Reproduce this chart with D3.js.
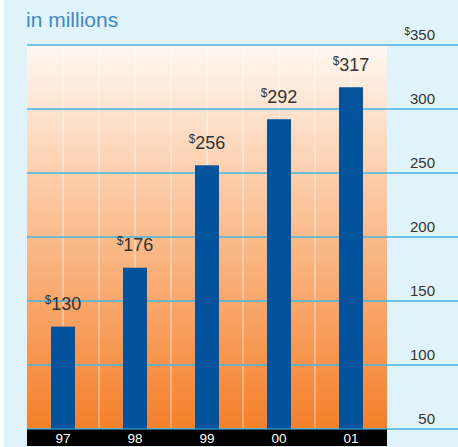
<!DOCTYPE html>
<html lang="en">
<head>
    <meta charset="UTF-8">
    <title>in millions</title>
    <script src="https://d3js.org/d3.v7.min.js"></script>
    <style>
        body { margin: 0; background: #ffffff; }
        svg { display: block; font-family: "Liberation Sans", Arial, sans-serif; }
    </style>
</head>
<body>
    <div id="chart"></div>
    <script>
        // Data
        const years = ["97", "98", "99", "00", "01"];
        const revenue = [130, 176, 256, 292, 317];
        const yTicks = [50, 100, 150, 200, 250, 300, 350];

        const W = 458, H = 447;
        const plot = { left: 27, right: 387, top: 45, bottom: 429 };

        const svg = d3.select("#chart").append("svg")
            .attr("width", W)
            .attr("height", H);

        // page background
        svg.append("rect")
            .attr("x", 4).attr("y", 0)
            .attr("width", W - 4).attr("height", H)
            .attr("fill", "#e1f3fa");

        const defs = svg.append("defs");
        const grad = defs.append("linearGradient")
            .attr("id", "bg")
            .attr("x1", 0).attr("y1", 0).attr("x2", 0).attr("y2", 1);
        grad.append("stop").attr("offset", "0%").attr("stop-color", "#fef8f2");
        grad.append("stop").attr("offset", "35%").attr("stop-color", "#fccdaa");
        grad.append("stop").attr("offset", "100%").attr("stop-color", "#f47f2a");

        // scales
        const x = d3.scaleBand()
            .domain(years)
            .range([plot.left, plot.right])
            .paddingInner(0).paddingOuter(0);
        const y = d3.scaleLinear()
            .domain([50, 350])
            .range([plot.bottom, plot.top]);
        const barW = 24;

        // orange plot area
        svg.append("rect")
            .attr("x", plot.left).attr("y", plot.top)
            .attr("width", plot.right - plot.left)
            .attr("height", plot.bottom - plot.top)
            .attr("fill", "url(#bg)");

        // vertical white lines, every half band
        const half = x.bandwidth() / 2;
        const vx = d3.range(1, years.length * 2).map(i => plot.left + i * half);
        svg.selectAll(".vline")
            .data(vx)
            .enter().append("line")
            .attr("class", "vline")
            .attr("x1", d => d).attr("x2", d => d)
            .attr("y1", plot.top).attr("y2", plot.bottom)
            .style("stroke", "#ffffff")
            .style("stroke-opacity", 0.65)
            .style("stroke-width", 1);

        // horizontal gridlines
        svg.selectAll(".hline")
            .data(yTicks)
            .enter().append("line")
            .attr("class", "hline")
            .attr("x1", plot.left).attr("x2", W)
            .attr("y1", d => y(d)).attr("y2", d => y(d))
            .style("stroke", "#45b6e2")
            .style("stroke-width", 1.5);

        // bars
        svg.selectAll(".bar")
            .data(revenue)
            .enter().append("rect")
            .attr("class", "bar")
            .attr("x", (d, i) => x(years[i]) + x.bandwidth() / 2 - barW / 2)
            .attr("y", d => y(d))
            .attr("width", barW)
            .attr("height", d => plot.bottom - y(d))
            .attr("fill", "#02539b");

        // value labels
        const vl = svg.selectAll(".val")
            .data(revenue)
            .enter().append("text")
            .attr("class", "val")
            .attr("x", (d, i) => x(years[i]) + x.bandwidth() / 2)
            .attr("y", d => y(d) - 16.5)
            .attr("text-anchor", "middle")
            .attr("fill", "#333333")
            .style("font-size", "18px");
        vl.append("tspan")
            .attr("dy", -6)
            .style("font-size", "12px")
            .text("$");
        vl.append("tspan")
            .attr("dy", 6)
            .text(d => d);

        // y tick labels
        const tl = svg.selectAll(".tick-label")
            .data(yTicks)
            .enter().append("text")
            .attr("class", "tick-label")
            .attr("x", 435)
            .attr("y", d => y(d) - 5.5)
            .attr("text-anchor", "end")
            .attr("fill", "#333333")
            .style("font-size", "15px");
        tl.filter(d => d === 350).append("tspan")
            .attr("dy", -5)
            .style("font-size", "10px")
            .text("$");
        tl.append("tspan")
            .attr("dy", d => d === 350 ? 5 : 0)
            .text(d => d);

        // black year strip
        svg.append("rect")
            .attr("x", plot.left).attr("y", plot.bottom)
            .attr("width", plot.right - plot.left)
            .attr("height", 17)
            .attr("fill", "#000000");
        svg.append("line")
            .attr("x1", plot.left).attr("x2", plot.right)
            .attr("y1", plot.bottom).attr("y2", plot.bottom)
            .style("stroke", "#45b6e2")
            .style("stroke-width", 1.2);

        svg.selectAll(".year")
            .data(years)
            .enter().append("text")
            .attr("class", "year")
            .attr("x", d => x(d) + x.bandwidth() / 2)
            .attr("y", 443)
            .attr("text-anchor", "middle")
            .attr("fill", "#ffffff")
            .style("font-size", "13.5px")
            .text(d => d);

        // title
        svg.append("text")
            .attr("x", 26)
            .attr("y", 27)
            .attr("fill", "#4289c8")
            .style("font-size", "21px")
            .text("in millions");
    </script>
</body>
</html>
